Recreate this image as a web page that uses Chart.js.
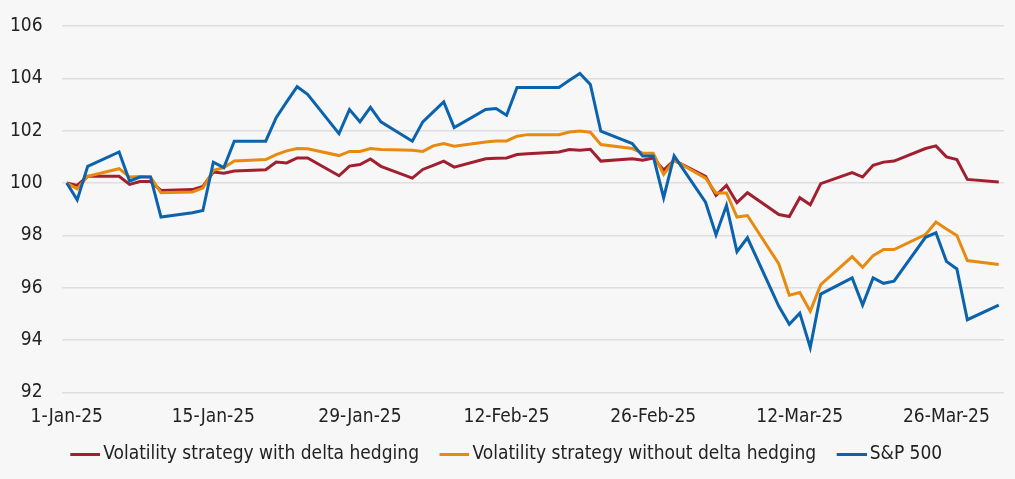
<!DOCTYPE html>
<html>
<head>
<meta charset="utf-8">
<script src="https://cdn.jsdelivr.net/npm/chart.js@4.4.1/dist/chart.umd.min.js"></script>
<style>
  html, body { margin: 0; padding: 0; background: #f7f7f7; }
  #wrap { width: 1015px; height: 479px; position: relative; }
</style>
</head>
<body>
<div id="wrap"><canvas id="c" width="1015" height="479"></canvas></div>
<script>
// Day offsets from 1-Jan-2025
const days = [0,1,2,5,6,7,8,9,12,13,14,15,16,19,20,21,22,23,26,27,28,29,30,33,34,35,36,37,40,41,42,43,44,47,48,49,50,51,54,55,56,57,58,61,62,63,64,65,68,69,70,71,72,75,76,77,78,79,82,83,84,85,86,89];

const withDelta = [100,99.91,100.26,100.26,99.95,100.06,100.06,99.72,99.75,99.87,100.42,100.38,100.46,100.51,100.80,100.77,100.96,100.96,100.28,100.65,100.71,100.92,100.64,100.19,100.52,100.68,100.84,100.61,100.93,100.95,100.96,101.09,101.12,101.19,101.28,101.25,101.29,100.84,100.93,100.87,100.96,100.50,100.87,100.26,99.53,99.91,99.25,99.63,98.80,98.72,99.44,99.17,99.98,100.40,100.23,100.68,100.80,100.84,101.32,101.42,101.00,100.90,100.14,100.04];

const withoutDelta = [100,99.78,100.26,100.55,100.23,100.25,100.23,99.63,99.66,99.81,100.49,100.59,100.84,100.90,101.09,101.23,101.32,101.31,101.05,101.21,101.21,101.32,101.28,101.25,101.21,101.42,101.51,101.41,101.57,101.61,101.61,101.79,101.85,101.85,101.95,101.99,101.94,101.47,101.32,101.14,101.14,100.33,100.87,100.19,99.62,99.62,98.70,98.76,96.91,95.72,95.82,95.10,96.12,97.19,96.78,97.23,97.46,97.46,98.03,98.51,98.25,98.00,97.04,96.89];

const sp500 = [100,99.36,100.64,101.19,100.08,100.23,100.23,98.70,98.87,98.95,100.80,100.59,101.60,101.60,102.50,103.10,103.68,103.39,101.89,102.81,102.34,102.89,102.34,101.60,102.34,102.72,103.10,102.12,102.81,102.85,102.59,103.65,103.65,103.65,103.93,104.19,103.77,101.98,101.51,101.03,101.03,99.44,101.04,99.27,98.02,99.15,97.38,97.91,95.29,94.61,95.03,93.72,95.76,96.38,95.34,96.38,96.17,96.25,97.93,98.10,97.01,96.72,94.78,95.34];

const xTickDays = [0,14,28,42,56,70,84];
const xTickLabels = ['1-Jan-25','15-Jan-25','29-Jan-25','12-Feb-25','26-Feb-25','12-Mar-25','26-Mar-25'];
const seriesNames = ['Volatility strategy with delta hedging','Volatility strategy without delta hedging','S&P 500'];
const seriesColors = ['#A21F30','#E88A0E','#0B63AD'];
const seriesValues = [withDelta, withoutDelta, sp500];

const FONT = "'Liberation Sans Narrow', 'DejaVu Sans Condensed', 'Liberation Sans', sans-serif";

// legend swatch image: transparent left part, 30px line on the right
function swatch(color) {
  const c = document.createElement('canvas');
  c.width = 45; c.height = 3;
  const g = c.getContext('2d');
  g.fillStyle = color;
  g.fillRect(15, 0, 30, 3);
  return c;
}

const bgPlugin = {
  id: 'bg',
  beforeDraw(chart) {
    const ctx = chart.ctx;
    ctx.save();
    ctx.fillStyle = '#f7f7f7';
    ctx.fillRect(0, 0, chart.width, chart.height);
    ctx.restore();
  }
};

const datasets = seriesValues.map((vals, i) => ({
  label: seriesNames[i],
  data: days.map((d, j) => ({ x: d, y: vals[j] })),
  borderColor: seriesColors[i],
  backgroundColor: seriesColors[i],
  borderWidth: 3,
  pointRadius: 0,
  tension: 0,
  order: 3 - i
}));

new Chart(document.getElementById('c'), {
  type: 'line',
  data: { datasets },
  plugins: [bgPlugin],
  options: {
    responsive: false,
    animation: false,
    devicePixelRatio: 1,
    layout: { padding: { left: 0, right: 11, top: 26, bottom: 5.5 } },
    plugins: {
      tooltip: { enabled: false },
      legend: {
        position: 'bottom',
        sort: (a, b) => a.datasetIndex - b.datasetIndex,
        labels: {
          usePointStyle: true,
          pointStyleWidth: 32,
          boxHeight: 3,
          padding: 12,
          color: '#222',
          font: { family: FONT, size: 19 },
          generateLabels(chart) {
            return chart.data.datasets.map((ds, i) => ({
              text: ds.label,
              fillStyle: ds.borderColor,
              strokeStyle: ds.borderColor,
              lineWidth: 0,
              pointStyle: swatch(ds.borderColor),
              fontColor: '#222',
              hidden: false,
              datasetIndex: i
            }));
          }
        }
      }
    },
    scales: {
      x: {
        type: 'linear',
        min: -0.5,
        max: 89.5,
        afterBuildTicks(axis) {
          axis.ticks = xTickDays.map(v => ({ value: v }));
        },
        afterFit(axis) { axis.height = 40; },
        grid: { display: false, drawTicks: false },
        border: { display: false },
        ticks: {
          padding: 13,
          color: '#222',
          maxRotation: 0,
          autoSkip: false,
          font: { family: FONT, size: 19 },
          callback(value) {
            const k = xTickDays.indexOf(value);
            return k >= 0 ? xTickLabels[k] : '';
          }
        }
      },
      y: {
        min: 92,
        max: 106,
        afterFit(axis) { axis.width = 61.5; },
        grid: { color: '#dedede', lineWidth: 1.5, drawTicks: false },
        border: { display: false },
        ticks: {
          stepSize: 2,
          padding: 19,
          color: '#222',
          font: { family: FONT, size: 19, lineHeight: 0.6 }
        }
      }
    }
  }
});
</script>
</body>
</html>
